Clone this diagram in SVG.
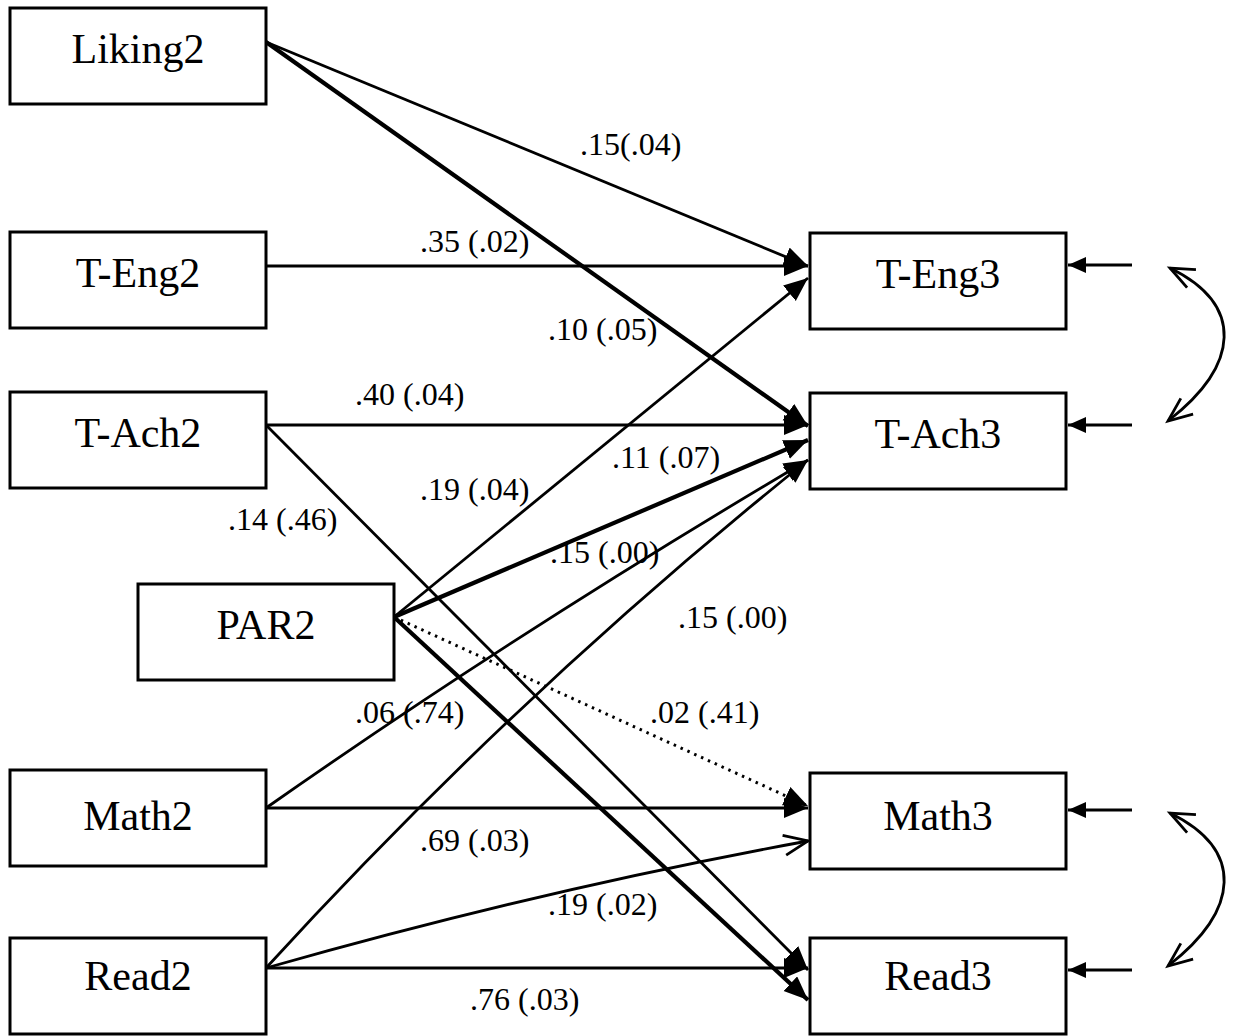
<svg xmlns="http://www.w3.org/2000/svg" width="1233" height="1036" viewBox="0 0 1233 1036">
<style>
.box{fill:#fff;stroke:#000;stroke-width:3}
.nt{font-family:"Liberation Serif",serif;font-size:42px;text-anchor:middle;fill:#000}
.lb{font-family:"Liberation Serif",serif;font-size:32px;fill:#000}
.ln{fill:none;stroke:#000;stroke-width:2.8}
.th{fill:none;stroke:#000;stroke-width:4.2}
.dt{fill:none;stroke:#000;stroke-width:3;stroke-dasharray:2.5 5}
</style>
<defs>
<marker id="fa" markerUnits="userSpaceOnUse" markerWidth="26" markerHeight="22" refX="24" refY="10" orient="auto"><path d="M0,0 L24,10 L0,20 z" fill="#000"/></marker>
<marker id="sa" markerUnits="userSpaceOnUse" markerWidth="20" markerHeight="18" refX="18" refY="8" orient="auto"><path d="M0,0 L18,8 L0,16 z" fill="#000"/></marker>
<marker id="oa" markerUnits="userSpaceOnUse" markerWidth="30" markerHeight="26" refX="26" refY="12" orient="auto-start-reverse"><path d="M2,2 L26,12 L2,22" fill="none" stroke="#000" stroke-width="2.8"/></marker>
</defs>
<rect width="1233" height="1036" fill="#fff"/>
<g id="connectors">
<line class="ln" x1="266" y1="42" x2="808" y2="266" marker-end="url(#fa)"/>
<line class="th" x1="266" y1="42" x2="808" y2="426" marker-end="url(#fa)"/>
<line class="ln" x1="266" y1="266" x2="808" y2="266" marker-end="url(#fa)"/>
<line class="ln" x1="266" y1="425" x2="808" y2="425" marker-end="url(#fa)"/>
<line class="ln" x1="266" y1="425" x2="808" y2="970" marker-end="url(#fa)"/>
<line class="ln" x1="394" y1="617" x2="808" y2="278" marker-end="url(#fa)"/>
<line class="th" x1="394" y1="617" x2="808" y2="440" marker-end="url(#fa)"/>
<line class="th" x1="394" y1="617" x2="808" y2="1000" marker-end="url(#fa)"/>
<line class="dt" x1="394" y1="617" x2="808" y2="806" marker-end="url(#fa)"/>
<path class="ln" d="M266,808 Q520,630 808,460" marker-end="url(#fa)"/>
<line class="ln" x1="266" y1="808" x2="808" y2="808" marker-end="url(#fa)"/>
<path class="ln" d="M266,968 Q520,690 808,460" marker-end="url(#fa)"/>
<path class="ln" d="M266,968 Q540,890 808,841" marker-end="url(#oa)"/>
<line class="ln" x1="266" y1="968" x2="808" y2="968" marker-end="url(#fa)"/>
<line class="ln" x1="1132" y1="265" x2="1068" y2="265" marker-end="url(#sa)"/>
<line class="ln" x1="1132" y1="425" x2="1068" y2="425" marker-end="url(#sa)"/>
<line class="ln" x1="1132" y1="810" x2="1068" y2="810" marker-end="url(#sa)"/>
<line class="ln" x1="1132" y1="970" x2="1068" y2="970" marker-end="url(#sa)"/>
<path class="ln" d="M1170,268 C1245,305 1240,365 1168,421" marker-start="url(#oa)" marker-end="url(#oa)"/>
<path class="ln" d="M1170,813 C1245,850 1240,910 1168,966" marker-start="url(#oa)" marker-end="url(#oa)"/>
</g>
<g id="labels">
<text class="lb" x="580" y="155">.15(.04)</text>
<text class="lb" x="420" y="252">.35 (.02)</text>
<text class="lb" x="548" y="340">.10 (.05)</text>
<text class="lb" x="355" y="405">.40 (.04)</text>
<text class="lb" x="612" y="468">.11 (.07)</text>
<text class="lb" x="420" y="500">.19 (.04)</text>
<text class="lb" x="228" y="530">.14 (.46)</text>
<text class="lb" x="550" y="563">.15 (.00)</text>
<text class="lb" x="678" y="628">.15 (.00)</text>
<text class="lb" x="355" y="723">.06 (.74)</text>
<text class="lb" x="650" y="723">.02 (.41)</text>
<text class="lb" x="420" y="851">.69 (.03)</text>
<text class="lb" x="548" y="915">.19 (.02)</text>
<text class="lb" x="470" y="1010">.76 (.03)</text>
</g>
<g id="Liking2"><rect class="box" x="10" y="8" width="256" height="96"/><text class="nt" x="138" y="63">Liking2</text></g>
<g id="T-Eng2"><rect class="box" x="10" y="232" width="256" height="96"/><text class="nt" x="138" y="287">T-Eng2</text></g>
<g id="T-Ach2"><rect class="box" x="10" y="392" width="256" height="96"/><text class="nt" x="138" y="447">T-Ach2</text></g>
<g id="PAR2"><rect class="box" x="138" y="584" width="256" height="96"/><text class="nt" x="266" y="639">PAR2</text></g>
<g id="Math2"><rect class="box" x="10" y="770" width="256" height="96"/><text class="nt" x="138" y="830">Math2</text></g>
<g id="Read2"><rect class="box" x="10" y="938" width="256" height="96"/><text class="nt" x="138" y="990">Read2</text></g>
<g id="T-Eng3"><rect class="box" x="810" y="233" width="256" height="96"/><text class="nt" x="938" y="288">T-Eng3</text></g>
<g id="T-Ach3"><rect class="box" x="810" y="393" width="256" height="96"/><text class="nt" x="938" y="448">T-Ach3</text></g>
<g id="Math3"><rect class="box" x="810" y="773" width="256" height="96"/><text class="nt" x="938" y="830">Math3</text></g>
<g id="Read3"><rect class="box" x="810" y="938" width="256" height="96"/><text class="nt" x="938" y="990">Read3</text></g>
</svg>
